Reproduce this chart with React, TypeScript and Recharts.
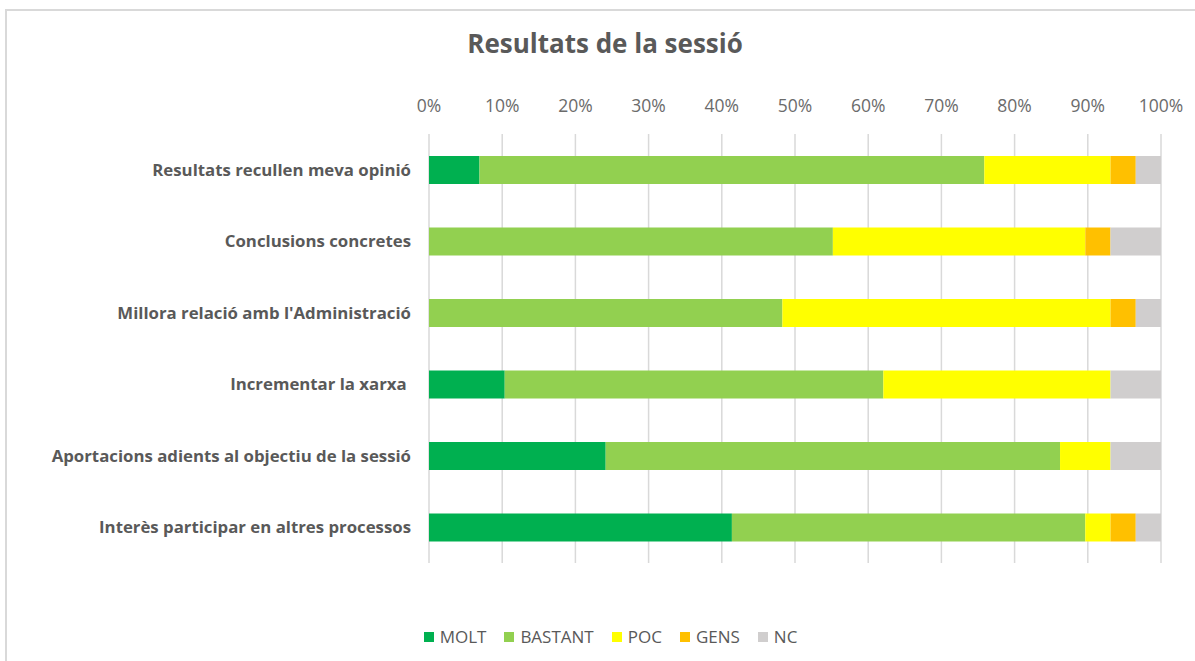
import React from 'react';
import { BarChart, Bar, XAxis, YAxis, CartesianGrid, Legend } from 'recharts';

const categories = [
  'Resultats recullen meva opinió',
  'Conclusions concretes',
  "Millora relació amb l'Administració",
  'Incrementar la xarxa ',
  'Aportacions adients al objectiu de la sessió',
  'Interès participar en altres processos',
];
const seriesNames = ['MOLT', 'BASTANT', 'POC', 'GENS', 'NC'];
const seriesColors = ['#00B050', '#92D050', '#FFFF00', '#FFC000', '#D0CECE'];
const molt = [2, 0, 0, 3, 7, 12];
const bastant = [20, 16, 14, 15, 18, 14];
const poc = [5, 10, 13, 9, 2, 1];
const gens = [1, 1, 1, 0, 0, 1];
const nc = [1, 2, 1, 2, 2, 1];
const tickValues = [0, 0.1, 0.2, 0.3, 0.4, 0.5, 0.6, 0.7, 0.8, 0.9, 1];
const title = 'Resultats de la sessió';

const seriesValues = [molt, bastant, poc, gens, nc];
const data = categories.map((c, i) => {
  const row: Record<string, string | number> = { name: c };
  seriesNames.forEach((s, j) => {
    row[s] = seriesValues[j][i];
  });
  return row;
});

const FONT = '"Open Sans", "Noto Sans", sans-serif';

const CatTick = (props: any) => {
  const { x, y, payload } = props;
  return (
    <text
      x={x}
      y={y}
      dy="0.355em"
      textAnchor="end"
      xmlSpace="preserve"
      fill="#595959"
      fontWeight={700}
      fontSize={16.8}
      fontFamily={FONT}
    >
      {payload.value}
    </text>
  );
};

const renderLegend = () => (
  <div
    style={{
      display: 'flex',
      justifyContent: 'center',
      alignItems: 'center',
      fontFamily: FONT,
      fontSize: 17,
      color: '#595959',
    }}
  >
    {seriesNames.map((s, i) => (
      <div key={s} style={{ display: 'flex', alignItems: 'center', marginRight: 18 }}>
        <span
          style={{
            display: 'inline-block',
            width: 10,
            height: 10,
            background: seriesColors[i],
            marginRight: 6,
          }}
        />
        <span>{s}</span>
      </div>
    ))}
  </div>
);

export default function App() {
  return (
    <div style={{ position: 'absolute', left: 0, top: 0, width: 1195, height: 661, background: '#fff', overflow: 'hidden' }}>
      <div
        style={{
          position: 'absolute',
          left: 5,
          top: 9,
          width: 1300,
          height: 800,
          border: '2px solid #D9D9D9',
          boxSizing: 'border-box',
        }}
      />
      <div
        style={{
          position: 'absolute',
          left: 0,
          top: 25,
          width: 1210,
          textAlign: 'center',
          fontFamily: FONT,
          fontWeight: 700,
          fontSize: 26,
          color: '#595959',
        }}
      >
        {title}
      </div>
      <div style={{ position: 'absolute', left: 0, top: 0 }}>
        <BarChart
          width={1195}
          height={661}
          data={data}
          layout="vertical"
          stackOffset="expand"
          barSize={28}
          margin={{ top: 94, right: 34, bottom: 75, left: 0 }}
        >
          <CartesianGrid horizontal={false} vertical={true} stroke="#D9D9D9" strokeWidth={1.5} />
          <XAxis
            type="number"
            orientation="top"
            domain={[0, 1]}
            ticks={tickValues}
            tickFormatter={(v: number) => `${Math.round(v * 100)}%`}
            axisLine={false}
            tickLine={false}
            tickSize={0}
            tickMargin={22}
            height={40}
            tick={{ fill: '#6b6b6b', fontSize: 17.5, fontFamily: FONT, fontWeight: 400 }}
            interval={0}
          />
          <YAxis
            type="category"
            dataKey="name"
            width={429}
            axisLine={false}
            tickLine={false}
            tickSize={0}
            tickMargin={18}
            tick={<CatTick />}
            interval={0}
          />
          <Legend
            verticalAlign="bottom"
            content={renderLegend}
            wrapperStyle={{ top: 625, left: 22, width: 1195 }}
          />
          {seriesNames.map((s, i) => (
            <Bar key={s} dataKey={s} stackId="a" fill={seriesColors[i]} isAnimationActive={false} />
          ))}
        </BarChart>
      </div>
    </div>
  );
}
